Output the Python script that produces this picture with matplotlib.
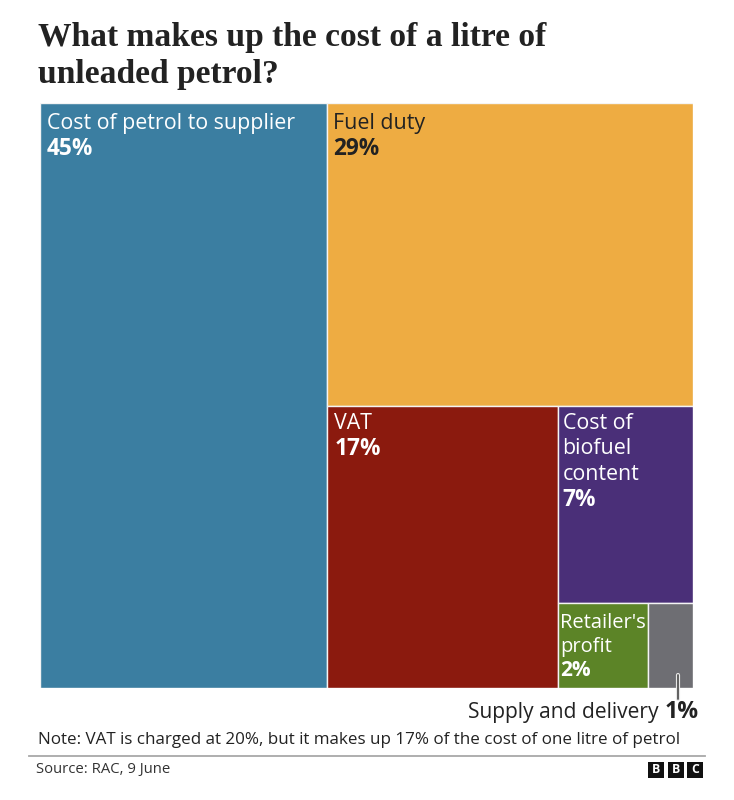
import matplotlib
matplotlib.use("Agg")
import matplotlib.pyplot as plt
from matplotlib.patches import Rectangle
import matplotlib.patheffects as pe

W, H = 734, 800
SANS = "Open Sans"
SERIF = "Liberation Serif"
INK = "#222222"

# Drawn area shares; the printed labels are kept as the source printed them
names = ["Cost of petrol to supplier", "Fuel duty", "VAT",
         "Cost of\nbiofuel\ncontent", "Retailer's\nprofit", "Supply and delivery"]
values = [44, 29, 17, 7, 2, 1]
printed = ["45%", "29%", "17%", "7%", "2%", "1%"]
colors = ["#3b7ea1", "#eeac42", "#8b1a0e", "#4a2f78", "#5c8427", "#6e6e73"]
text_colors = ["white", INK, "white", "white", "white", None]
name_size = [15.4, 15.4, 15.4, 15.4, 14.5, 0]
pct_size = [16.3, 16.3, 16.3, 16.3, 15.0, 0]
line_px = [25.5, 25.5, 25.5, 25.5, 24, 0]

total = sum(values)
rest = total - values[0]
after_duty = rest - values[1]
after_vat = after_duty - values[2]
after_bio = after_vat - values[3]

x1 = values[0]
y1 = 100 * values[1] / rest
x2 = x1 + (100 - x1) * values[2] / after_duty
y2 = y1 + (100 - y1) * values[3] / after_vat
x3 = x2 + (100 - x2) * values[4] / after_bio
boxes = [(0, 0, x1, 100), (x1, 0, 100 - x1, y1), (x1, y1, x2 - x1, 100 - y1),
         (x2, y1, 100 - x2, y2 - y1), (x2, y2, x3 - x2, 100 - y2), (x3, y2, 100 - x3, 100 - y2)]

fig = plt.figure(figsize=(W / 100, H / 100), dpi=100, facecolor="white")
L, R, T, B = 40, 693, 103, 688
ax = fig.add_axes([L / W, 1 - B / H, (R - L) / W, (B - T) / H])
ax.set_xlim(0, 100)
ax.set_ylim(100, 0)
ax.axis("off")

page = fig.add_axes([0, 0, 1, 1], zorder=5)
page.set_xlim(0, W)
page.set_ylim(H, 0)
page.axis("off")
page.patch.set_alpha(0)

pads = [7, 6, 7, 5, 2.5]
top_pad = [20.5, 20.5, 17.5, 17.5, 19.5]
for i, (x, y, w, h) in enumerate(boxes):
    ax.add_patch(Rectangle((x, y), w, h, facecolor=colors[i], edgecolor="#f4f4f4", linewidth=1))
    if text_colors[i] is None:
        continue
    px = L + x / 100 * (R - L) + pads[i]
    py = T + y / 100 * (B - T) + top_pad[i]
    lines = names[i].split("\n")
    for k, line in enumerate(lines):
        page.text(px, py + k * line_px[i], line, color=text_colors[i], fontsize=name_size[i],
                  family=SANS, weight=500, va="center", ha="left")
    page.text(px, py + len(lines) * line_px[i], printed[i], color=text_colors[i],
              fontsize=pct_size[i], family=SANS, weight="bold", va="center", ha="left")

page.text(38, 37.5, "What makes up the cost of a litre of", fontsize=24.15, family=SERIF,
          weight="bold", color=INK, va="center", ha="left")
page.text(38, 74.5, "unleaded petrol?", fontsize=24.15, family=SERIF,
          weight="bold", color=INK, va="center", ha="left")

# Leader to the smallest box
page.plot([678, 678], [675, 699], color="#555555", lw=1.3, solid_capstyle="round",
          path_effects=[pe.Stroke(linewidth=3, foreground="#e8e8e8"), pe.Normal()])
page.text(468, 712.5, names[5], fontsize=15.1, family=SANS, color=INK, va="center", ha="left")
page.text(665, 712.5, printed[5], fontsize=16.6, family=SANS, weight="bold", color=INK, va="center", ha="left")

page.text(38, 740, "Note: VAT is charged at 20%, but it makes up 17% of the cost of one litre of petrol",
          fontsize=12.27, family=SANS, color=INK, va="center", ha="left")
page.plot([29, 705], [756, 756], color="#a8a8a8", lw=1.3)
page.text(36, 770, "Source: RAC, 9 June", fontsize=10.7, family=SANS, color="#333333", va="center", ha="left")

for x0, letter in zip([648, 668, 687], "BBC"):
    page.add_patch(Rectangle((x0, 762), 15.5, 15.5, facecolor="#111111", edgecolor="none"))
    page.text(x0 + 7.8, 769.8, letter, color="white", fontsize=8.8, family=SANS, weight="bold",
              ha="center", va="center")

fig.savefig("out.png", dpi=100)
